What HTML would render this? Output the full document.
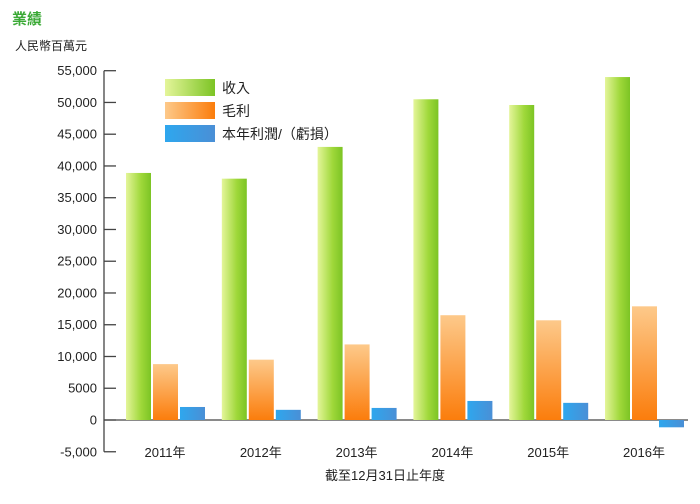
<!DOCTYPE html>
<html><head><meta charset="utf-8"><style>
body{margin:0;background:#fff;font-family:"Liberation Sans","Noto Sans CJK TC",sans-serif;}
svg text{font-family:"Liberation Sans","Noto Sans CJK TC",sans-serif;}
</style></head><body>
<svg width="700" height="499" xmlns="http://www.w3.org/2000/svg">
<defs>
<linearGradient id="gG" x1="0" x2="1" y1="0" y2="0"><stop offset="0" stop-color="#e4f59a"/><stop offset="0.6" stop-color="#9fd83a"/><stop offset="1" stop-color="#7cc424"/></linearGradient>
<linearGradient id="gO" x1="0" x2="0" y1="0" y2="1"><stop offset="0" stop-color="#fdc98a"/><stop offset="1" stop-color="#fb7d0c"/></linearGradient>
<linearGradient id="gB" x1="0" x2="1" y1="0" y2="0"><stop offset="0" stop-color="#2ea7ee"/><stop offset="1" stop-color="#4a8fd6"/></linearGradient>
<linearGradient id="lG" x1="0" x2="1"><stop offset="0" stop-color="#e4f59a"/><stop offset="1" stop-color="#7cc424"/></linearGradient>
<linearGradient id="lO" x1="0" x2="1"><stop offset="0" stop-color="#fdc98a"/><stop offset="1" stop-color="#fb7d0c"/></linearGradient>
</defs>
<text x="12" y="24" font-size="15" font-weight="bold" fill="#3aa935">業績</text>
<text x="15" y="50" font-size="12" fill="#222">人民幣百萬元</text>
<text x="385" y="480" font-size="13" fill="#222" text-anchor="middle">截至12月31日止年度</text>
<g id="axes"></g>
<g id="bars"></g>
<g>
<rect x="165" y="79" width="50" height="17" fill="url(#lG)"/>
<text x="222" y="93" font-size="14" fill="#222">收入</text>
<rect x="165" y="102" width="50" height="17" fill="url(#lO)"/>
<text x="222" y="116" font-size="14" fill="#222">毛利</text>
<rect x="165" y="125" width="50" height="17" fill="url(#gB)"/>
<text x="222" y="139" font-size="14" fill="#222">本年利潤/（虧損）</text>
</g>
</svg>
<script>
const categories=["2011年","2012年","2013年","2014年","2015年","2016年"];
const revenue=[38900,38000,43000,50500,49600,54000];
const grossProfit=[8800,9500,11900,16500,15700,17900];
const netProfit=[2050,1600,1900,3000,2700,-1150];
const yTicks=[55000,50000,45000,40000,35000,30000,25000,20000,15000,10000,5000,0,-5000];
const yTickLabels=["55,000","50,000","45,000","40,000","35,000","30,000","25,000","20,000","15,000","10,000","5000","0","-5,000"];
const NS="http://www.w3.org/2000/svg";
function y(v){return 420-v*(349.3/55000);}
function xg(i){return 126+i*95.8;}
const ax=document.getElementById('axes'),bars=document.getElementById('bars');
function mk(t,a,p){const e=document.createElementNS(NS,t);for(const k in a)e.setAttribute(k,a[k]);p.appendChild(e);return e;}
const yl=mk('line',{x1:104,x2:104,y1:y(55000),y2:y(-5000),stroke:'#444','stroke-width':1.3},ax);


yTicks.forEach((v,i)=>{
 const t=mk('line',{x1:104,x2:116,y1:y(v),y2:y(v),stroke:'#444','stroke-width':1.3},ax);
 
 
 const l=mk('text',{x:97,y:y(v)+4.5,'font-size':13,'text-anchor':'end',fill:'#222'},ax);
 l.textContent=yTickLabels[i];
 
 
});
const series=[[revenue,'url(#gG)','bar-revenue'],[grossProfit,'url(#gO)','bar-gross-profit'],[netProfit,'url(#gB)','bar-net-profit']];
categories.forEach((c,i)=>{
 series.forEach((s,j)=>{
  const v=s[0][i];const x=xg(i)+j*27;
  const r=mk('rect',{x:x,y:Math.min(y(v),y(0)),width:25,height:Math.abs(y(v)-y(0)),fill:s[1]},bars);
  
  
 });
 const l=mk('text',{x:xg(i)+39,y:457,'font-size':13,'text-anchor':'middle',fill:'#222'},ax);
 l.textContent=c;
 
 
});
const zl=mk('line',{x1:104,x2:688,y1:y(0),y2:y(0),stroke:'#444','stroke-width':1.3},ax);


</script>
</body></html>
